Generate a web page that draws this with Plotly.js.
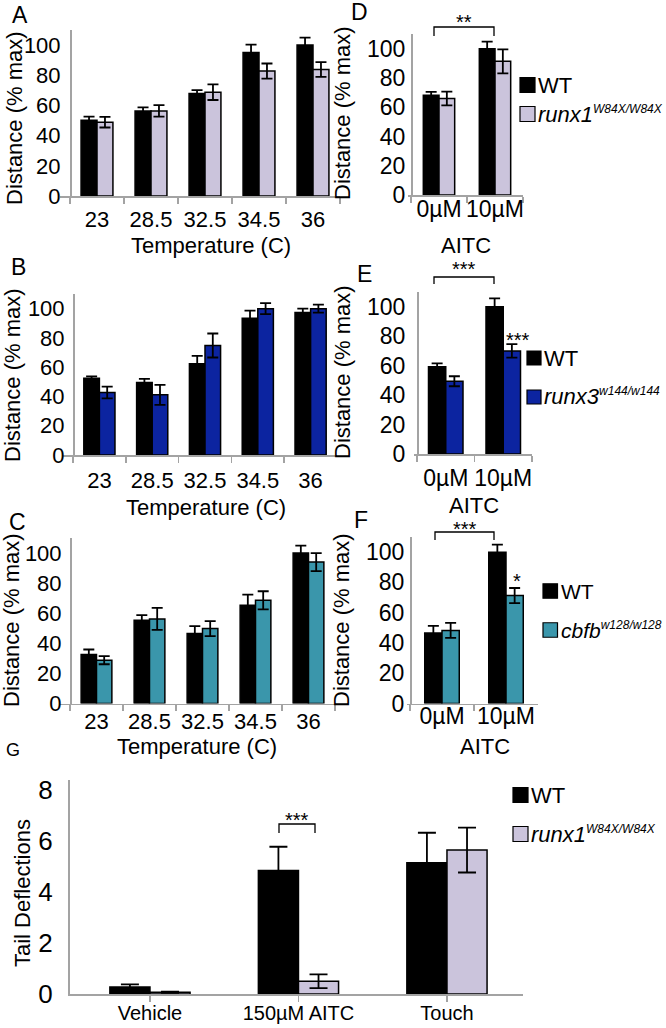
<!DOCTYPE html>
<html><head><meta charset="utf-8">
<script src="https://cdn.plot.ly/plotly-3.0.1.min.js"></script>
<style>html,body{margin:0;padding:0;background:#fff;} #chart{width:666px;height:1028px;}</style>
</head><body><div id="chart"></div><script>
// ---------- DATA ----------
const tempCats = ['23', '28.5', '32.5', '34.5', '36'];
const aitcCats = ['0µM', '10µM'];
const gCats = ['Vehicle', '150µM AITC', 'Touch'];

const nameWT = 'WT';
const nameRunx1 = '<i>runx1</i><sup><span style="font-size:12px"><i>W84X/W84X</i></span></sup>';
const nameRunx3 = '<i>runx3</i><sup><span style="font-size:12px"><i>w144/w144</i></span></sup>';
const nameCbfb = '<i>cbfb</i><sup><span style="font-size:12px"><i>w128/w128</i></span></sup>';

// Panel A: temperature, WT vs runx1
const aWT = [50.2, 56.4, 67.9, 95.1, 100];
const aWTerr = [2.4, 2.3, 2.2, 5.2, 5.0];
const aMut = [48.9, 56.4, 68.8, 82.8, 83.8];
const aMutErr = [3.5, 3.8, 5.2, 5.0, 4.9];
// Panel D: AITC, WT vs runx1
const dWT = [68.2, 100];
const dWTerr = [2.3, 4.8];
const dMut = [65.9, 91.3];
const dMutErr = [4.7, 8.2];
// Panel B: temperature, WT vs runx3
const bWT = [52.5, 49.5, 62.3, 93.4, 97.3];
const bWTerr = [1.2, 2.5, 5.4, 5.2, 2.7];
const bMut = [42.7, 41.1, 74.8, 100, 100];
const bMutErr = [4.0, 6.8, 8.2, 3.8, 2.7];
// Panel E: AITC, WT vs runx3
const eWT = [59.2, 100];
const eWTerr = [2.3, 5.7];
const eMut = [49.4, 70.0];
const eMutErr = [3.4, 4.6];
// Panel C: temperature, WT vs cbfb
const cWT = [32.6, 55.4, 46.5, 65.3, 100];
const cWTerr = [3.3, 3.3, 4.9, 7.0, 4.9];
const cMut = [28.8, 56.2, 49.8, 68.6, 94.0];
const cMutErr = [2.7, 7.3, 5.0, 6.0, 6.0];
// Panel F: AITC, WT vs cbfb
const fWT = [46.5, 100];
const fWTerr = [4.8, 5.0];
const fMut = [48.3, 71.3];
const fMutErr = [4.9, 5.0];
// Panel G: tail deflections, WT vs runx1
const gWT = [0.27, 4.85, 5.15];
const gWTerr = [0.11, 0.93, 1.18];
const gMut = [0.07, 0.50, 5.65];
const gMutErr = [0.02, 0.27, 0.88];

// ---------- STYLE ----------
const W = 666, H = 1028;
const FONT = 'Liberation Sans, Arial, Helvetica, sans-serif';
const AX = '#a3a3a3';
const LAV = '#cbc4dc', BLUE = '#0c24a0', TEAL = '#3a96ab', BLK = '#000000';
const X = p => p / W;
const Y = p => 1 - p / H;

// yx: y-axis position; x0: start of x-axis line (may extend left of the y axis)
const panels = [
  {xa: 'x',  yx: 70,  x0: 60,  x1: 340, top: 30,  bot: 196,   cats: tempCats, wt: aWT, wte: aWTerr, mu: aMut, mue: aMutErr, col: LAV,  w: 0.295, range: [0, 110], dtick: 20, fs: 22, ystand: 5,  xstand: 3,  mname: nameRunx1},
  {xa: 'x2', yx: 411, x0: 408, x1: 523, top: 34,  bot: 195,   cats: aitcCats, wt: dWT, wte: dWTerr, mu: dMut, mue: dMutErr, col: LAV,  w: 0.28,  range: [0, 110], dtick: 20, fs: 23, ystand: 1,  xstand: -7, mname: nameRunx1},
  {xa: 'x3', yx: 73,  x0: 63,  x1: 337, top: 294, bot: 455,   cats: tempCats, wt: bWT, wte: bWTerr, mu: bMut, mue: bMutErr, col: BLUE, w: 0.295, range: [0, 110], dtick: 20, fs: 22, ystand: 4,  xstand: 5,  mname: nameRunx3},
  {xa: 'x4', yx: 417, x0: 414, x1: 532, top: 292, bot: 454,   cats: aitcCats, wt: eWT, wte: eWTerr, mu: eMut, mue: eMutErr, col: BLUE, w: 0.30,  range: [0, 110], dtick: 20, fs: 23, ystand: 7,  xstand: 3,  mname: nameRunx3},
  {xa: 'x5', yx: 70,  x0: 60,  x1: 335, top: 538, bot: 703.5, cats: tempCats, wt: cWT, wte: cWTerr, mu: cMut, mue: cMutErr, col: TEAL, w: 0.29,  range: [0, 110], dtick: 20, fs: 22, ystand: 4,  xstand: -3, mname: nameCbfb},
  {xa: 'x6', yx: 410, x0: 407, x1: 538, top: 537, bot: 703.5, cats: aitcCats, wt: fWT, wte: fWTerr, mu: fMut, mue: fMutErr, col: TEAL, w: 0.27,  range: [0, 110], dtick: 20, fs: 23, ystand: 1,  xstand: -9, mname: nameCbfb},
  {xa: 'x7', yx: 68,  x0: 68,  x1: 523, top: 780, bot: 994,   cats: gCats,    wt: gWT, wte: gWTerr, mu: gMut, mue: gMutErr, col: LAV,  w: 0.27,  range: [0, 8.4], dtick: 2,  fs: 26, ystand: 10, xstand: -6, mname: nameRunx1, g: true}
];

const data = [];
const layout = {
  width: W, height: H, margin: {l: 0, r: 0, t: 0, b: 0},
  paper_bgcolor: '#fff', plot_bgcolor: 'rgba(0,0,0,0)',
  showlegend: false, barmode: 'overlay',
  font: {family: FONT, color: '#000'},
  annotations: [], shapes: []
};

panels.forEach((p, i) => {
  const n = i + 1;
  const ya = 'y' + (n === 1 ? '' : n);
  const errW = p.g ? 9 : 5.5;
  const mk = (yv, ev, color, offset, name) => ({
    type: 'bar', x: p.cats, y: yv, name: name, xaxis: p.xa, yaxis: ya,
    width: p.w, offset: offset,
    marker: {color: color, line: {color: '#000', width: 1.5}},
    error_y: {type: 'data', array: ev, visible: true, color: '#000', thickness: 1.8, width: errW},
    hoverinfo: 'skip'
  });
  data.push(mk(p.wt, p.wte, BLK, -p.w, nameWT));
  data.push(mk(p.mu, p.mue, p.col, 0, p.mname));

  const xk = 'xaxis' + (n === 1 ? '' : n), yk = 'yaxis' + (n === 1 ? '' : n);
  const xaxis = {
    domain: [X(p.x0), X(p.x1)], anchor: ya, type: 'category',
    showline: true, linecolor: AX, linewidth: 1.6, mirror: false,
    ticks: 'outside', ticklen: 6, tickcolor: AX, tickwidth: 1.6,
    tickson: p.g ? 'labels' : 'boundaries', tickangle: 0,
    ticklabelstandoff: p.xstand,
    showgrid: false, zeroline: false, fixedrange: true,
    tickfont: {family: FONT, size: p.g ? 20 : p.fs, color: '#000'}
  };
  if (p.g) {
    xaxis.range = [-0.552, 2.512];
  } else {
    // each category spans (x1 - yx)/n px; extend the range so the axis line starts at x0
    const catPx = (p.x1 - p.yx) / p.cats.length;
    xaxis.range = [-0.5 - (p.yx - p.x0) / catPx, p.cats.length - 0.5];
  }
  layout[xk] = xaxis;
  layout[yk] = {
    domain: [Y(p.bot), Y(p.top)], anchor: 'free', position: X(p.yx), range: p.range,
    tick0: 0, dtick: p.dtick, showline: true, linecolor: AX, linewidth: 1.6,
    ticks: '', showgrid: false, zeroline: false, fixedrange: true,
    ticklabelstandoff: p.ystand,
    tickfont: {family: FONT, size: p.fs, color: '#000'}
  };
});

const ann = (x, y, text, size, extra) => Object.assign({
  xref: 'paper', yref: 'paper', x: X(x), y: Y(y), text: text, showarrow: false,
  xanchor: 'center', yanchor: 'middle', font: {family: FONT, size: size, color: '#000'}
}, extra || {});

// panel letters
[['A', 20, 15], ['D', 359, 12], ['B', 18, 267], ['E', 364, 274], ['C', 17, 522], ['F', 361, 520]]
  .forEach(([t, x, y]) => layout.annotations.push(ann(x, y, t, 23)));
layout.annotations.push(ann(13, 750, 'G', 18));

// axis titles
[[211, 245], [206, 507], [197, 746]].forEach(([x, y]) => layout.annotations.push(ann(x, y, 'Temperature (C)', 22)));
[[466, 245], [474, 505], [485, 746]].forEach(([x, y]) => layout.annotations.push(ann(x, y, 'AITC', 22)));
[[14, 118], [342, 113], [12, 375], [342, 372], [11, 620], [341, 620]]
  .forEach(([x, y]) => layout.annotations.push(ann(x, y, 'Distance (% max)', 22, {textangle: -90})));
layout.annotations.push(ann(22, 893, 'Tail Deflections', 22, {textangle: -90}));

// significance brackets
const bracket = (xa, xb, yt, yb) => ({
  type: 'path', xref: 'paper', yref: 'paper',
  path: `M${X(xa)},${Y(yb)} L${X(xa)},${Y(yt)} L${X(xb)},${Y(yt)} L${X(xb)},${Y(yb)}`,
  line: {color: '#000', width: 1.3}
});
layout.shapes.push(bracket(434, 494, 27, 36));
layout.shapes.push(bracket(434, 494, 277, 284));
layout.shapes.push(bracket(435, 494, 532, 540));
layout.shapes.push(bracket(279, 315, 824, 833));
[[464, 22, '**'], [464, 269, '***'], [518, 340, '***'], [465, 529, '***'], [517, 581, '*'], [297, 820, '***']]
  .forEach(([x, y, t]) => layout.annotations.push(ann(x, y, t, 20)));

// legends (manual)
const legend = (bx, y1, y2, size, mutName, mutCol, fs) => {
  [[y1, BLK, nameWT], [y2, mutCol, mutName]].forEach(([yc, col, txt]) => {
    layout.shapes.push({type: 'rect', xref: 'paper', yref: 'paper',
      x0: X(bx), x1: X(bx + size), y0: Y(yc + size / 2), y1: Y(yc - size / 2),
      fillcolor: col, line: {color: '#000', width: 1.2}});
    layout.annotations.push(ann(bx + size + 1, yc, txt, fs, {xanchor: 'left'}));
  });
};
legend(520, 85, 114, 15, nameRunx1, LAV, 22);
legend(527, 358, 397, 14, nameRunx3, BLUE, 22);
legend(543, 591, 630, 14.5, nameCbfb, TEAL, 21);
legend(513, 795, 834, 15, nameRunx1, LAV, 22);

Plotly.newPlot('chart', data, layout, {staticPlot: true, displayModeBar: false});
</script></body></html>
